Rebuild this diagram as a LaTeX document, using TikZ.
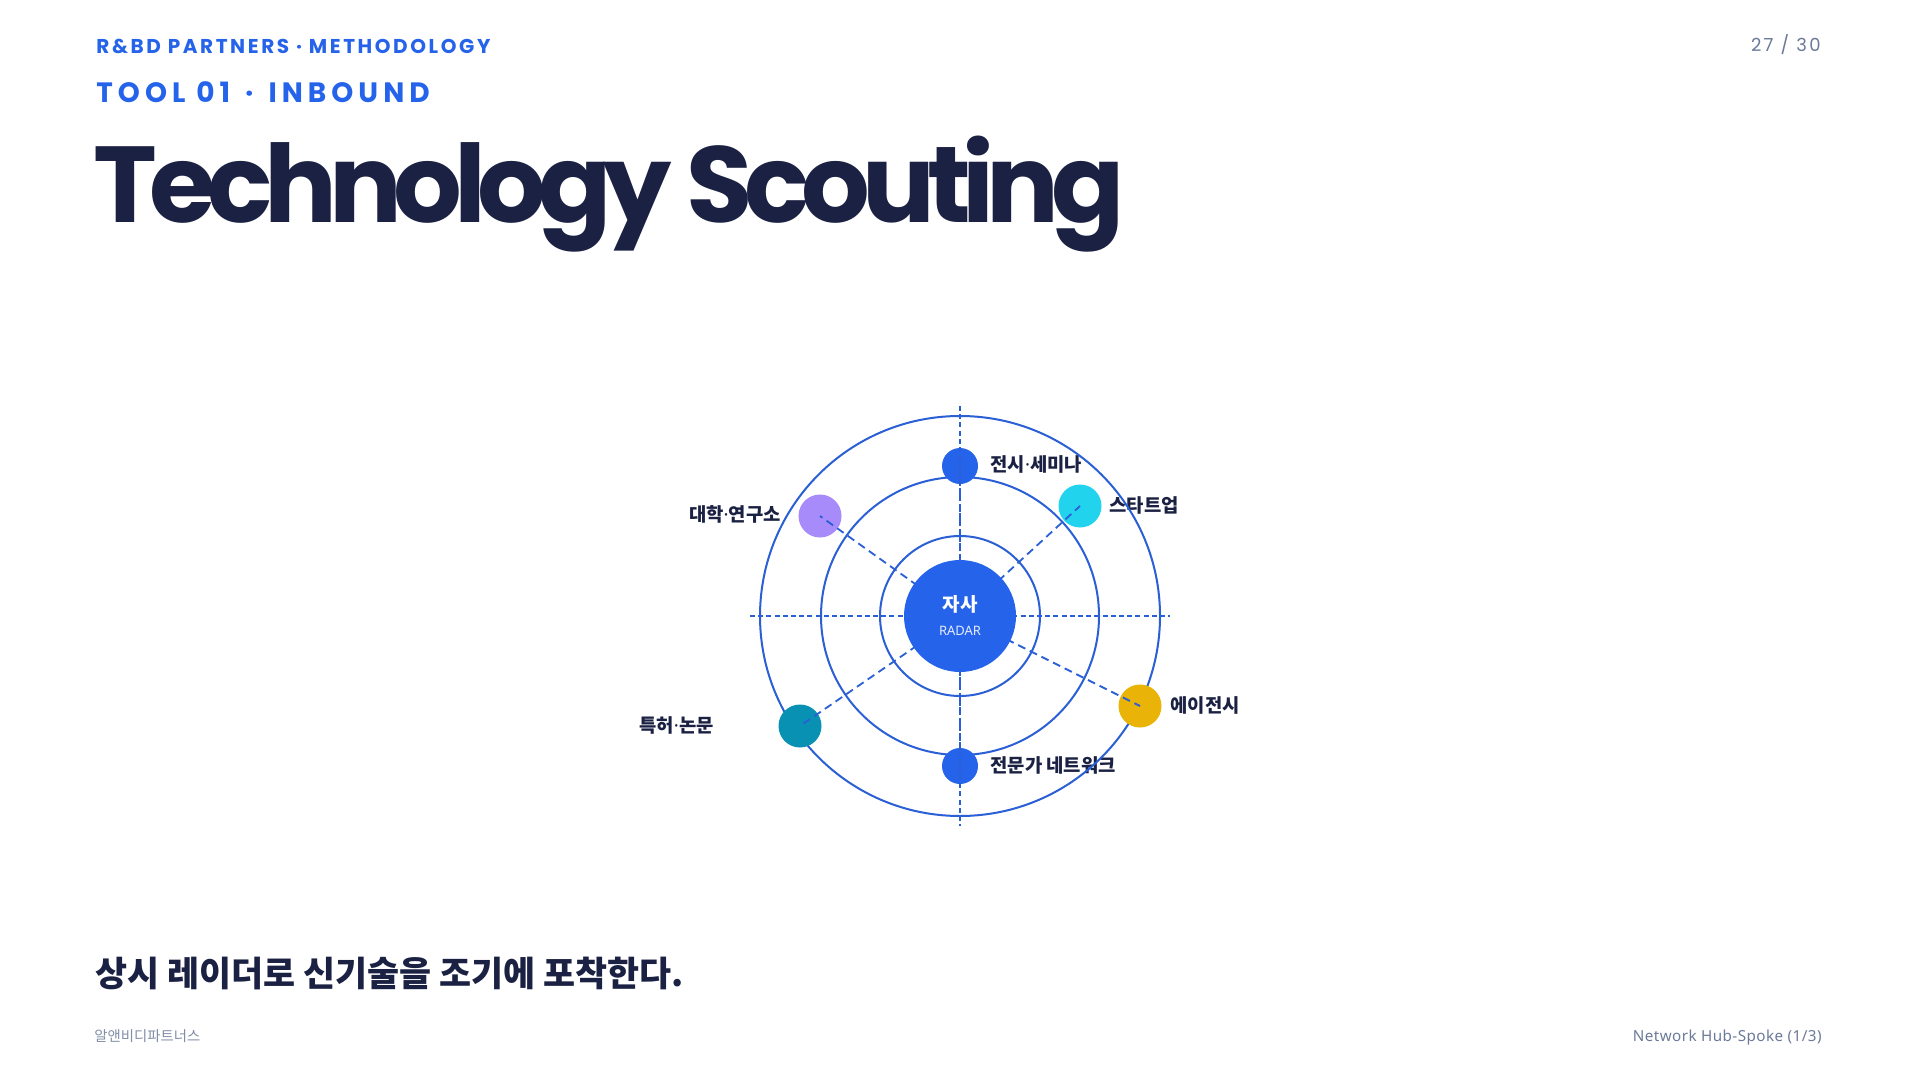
\documentclass[tikz,border=0pt]{standalone}
\usepackage{fontspec}
\setmainfont{Noto Sans}
\newfontfamily\kr{Noto Sans CJK KR}
\newfontfamily\latin{Noto Sans}
\newfontfamily\pop{Poppins}
\newfontfamily\popls{Poppins}[LetterSpace=13]
\newfontfamily\popwide{Poppins}[LetterSpace=18]
\newfontfamily\poptitle{Poppins}[LetterSpace=-7.6]
\newfontfamily\sansls{Noto Sans}[LetterSpace=3]
\newcommand\mdot{{\latin\bfseries ·}}
\pgfdeclarelayer{bg}
\pgfdeclarelayer{front}
\pgfsetlayers{bg,main,front}
\definecolor{brand}{HTML}{2563EB}
\definecolor{navy}{HTML}{1B2142}
\definecolor{muted}{HTML}{6B7A99}
\definecolor{ringc}{HTML}{2A5FD6}
\definecolor{violetx}{HTML}{A78BFA}
\definecolor{cyanx}{HTML}{22D3EE}
\definecolor{tealx}{HTML}{0891B2}
\definecolor{amberx}{HTML}{EAB308}
\tikzset{
  ringline/.style={draw=ringc, line width=1pt},
  crossline/.style={draw=ringc, line width=0.9pt, dash pattern=on 2.5pt off 1.6pt},
  spokeline/.style={draw=ringc, line width=0.9pt, dash pattern=on 4pt off 2.5pt},
  smalldot/.style={circle, inner sep=0pt, minimum size=18pt},
  bigdot/.style={circle, inner sep=0pt, minimum size=21.5pt},
  lab/.style={inner sep=0pt, font=\kr\bfseries\fontsize{9.4}{11}\selectfont, text=navy},
}
\begin{document}
\begin{tikzpicture}[x=0.5pt,y=-0.5pt]
\useasboundingbox (0,0) rectangle (1920,1080);

% header
\node[anchor=base west, inner sep=0pt, text=brand, font=\popls\bfseries\fontsize{10}{12}\selectfont] (kicker) at (96,54) {R\&BD PARTNERS · METHODOLOGY};
\node[anchor=base west, inner sep=0pt, text=brand, font=\popwide\bfseries\fontsize{14}{16}\selectfont] (tool) at (96,103) {TOOL 01\hspace{2pt} · \hspace{2pt}INBOUND};
\node[anchor=base east, inner sep=0pt, text=muted, font=\popls\fontsize{9}{11}\selectfont] (page) at (1821,52) {27 / 30};
\node[anchor=base west, inner sep=0pt, text=navy, font=\poptitle\bfseries\fontsize{54}{58}\selectfont] (title) at (93,223) {Technology Scouting};

% hub
\begin{pgfonlayer}{front}
\node[circle, fill=brand, inner sep=0pt, minimum size=56pt] (hub) at (960,616) {};
\node[inner sep=0pt, text=white, font=\kr\bfseries\fontsize{9.5}{11}\selectfont] (hubT) at (960,604) {자사};
\node[inner sep=0pt, text=white!88!brand, font=\fontsize{6.5}{8}\selectfont] (hubS) at (960,631) {RADAR};
\end{pgfonlayer}

% background and labels (under the rings)
\begin{pgfonlayer}{bg}
\fill[white] (0,0) rectangle (1920,1080);
\node[lab, anchor=west] (lTop) at (990,464) {전시\mdot 세미나};
\node[lab, anchor=west] (lBot) at (990,765) {전문가 네트워크};
\node[lab, anchor=west] (lStart) at (1109,505) {스타트업};
\node[lab, anchor=east] (lUni) at (781,514) {대학\mdot 연구소};
\node[lab, anchor=east] (lPat) at (714,725) {특허\mdot 논문};
\node[lab, anchor=west] (lAg) at (1170,705) {에이전시};
\end{pgfonlayer}

% rings
\draw[ringline] (hub.center) circle[radius=100pt];
\draw[ringline] (hub.center) circle[radius=69.5pt];
\draw[ringline] (hub.center) circle[radius=40pt];

% dots
\node[smalldot, fill=brand] (dTop) at (960,466) {};
\node[smalldot, fill=brand] (dBot) at (960,766) {};
\node[bigdot, fill=cyanx] (dStart) at (1080,506) {};
\node[bigdot, fill=violetx] (dUni) at (820,516) {};
\node[bigdot, fill=tealx] (dPat) at (800,726) {};
\node[bigdot, fill=amberx] (dAg) at (1140,706) {};

% crosshair
\coordinate (cW) at (750,616);
\coordinate (cE) at (1170,616);
\coordinate (cN) at (960,406);
\coordinate (cS) at (960,826);
\draw[crossline] (cW) -- (cE);
\draw[crossline] (cN) -- (cS);

% spokes
\foreach \d in {dTop,dBot,dStart,dUni,dPat,dAg}
  \draw[spokeline] (hub.center) -- (\d.center);

% footer
\node[anchor=base west, inner sep=0pt, text=navy, font=\kr\bfseries\fontsize{17.4}{21}\selectfont] (headline) at (95,986) {상시 레이더로 신기술을 조기에 포착한다.};
\node[anchor=base west, inner sep=0pt, text=muted!85, font=\kr\fontsize{7.2}{9}\selectfont] (brandname) at (94,1041) {알앤비디파트너스};
\node[anchor=base east, inner sep=0pt, text=muted, font=\sansls\fontsize{7.6}{9}\selectfont] (series) at (1822,1041) {Network Hub-Spoke (1/3)};
\end{tikzpicture}
\end{document}
